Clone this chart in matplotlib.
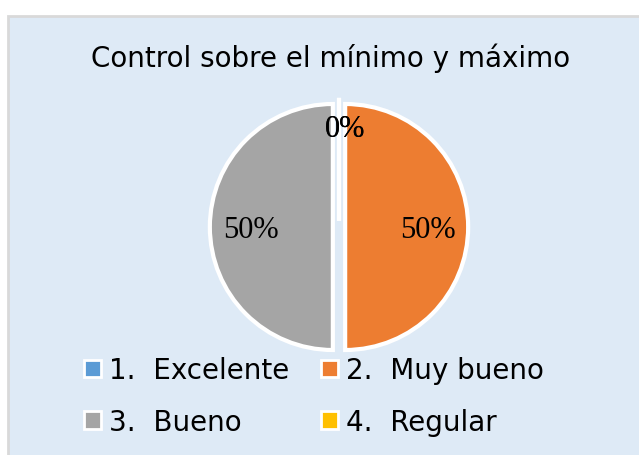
import matplotlib.pyplot as plt
from matplotlib.patches import Rectangle

# Data
categories = ["1.  Excelente", "2.  Muy bueno", "3.  Bueno", "4.  Regular"]
values = [0, 50, 50, 0]
colors = ["#5B9BD5", "#ED7D31", "#A5A5A5", "#FFC000"]
title = "Control sobre el mínimo y máximo"

fig = plt.figure(figsize=(6.39, 4.56), dpi=100)
fig.patch.set_facecolor("white")

# light blue chart panel with gray border (runs off right/bottom edge)
W, H = 639, 456
panel = Rectangle((8 / W, -0.05), 1.0, 1.05 - 17 / H, transform=fig.transFigure,
                  facecolor="#DEEAF6", edgecolor="#D9D9D9", linewidth=2, zorder=-5)
fig.patches.append(panel)

fig.text(331 / W, 1 - 58 / H, title, ha="center", va="center",
         fontsize=20, family="DejaVu Sans", color="black")

# pie axes: centre ~ (339, 228), radius ~ 123 px
r = 123
ax = fig.add_axes([(339 - r * 1.1) / W, 1 - (228 + r * 1.1) / H,
                   2 * r * 1.1 / W, 2 * r * 1.1 / H], zorder=2)
ax.set_facecolor("none")
wedges, texts, autotexts = ax.pie(
    values, colors=colors, startangle=90, counterclock=False,
    explode=[0.05] * 4, autopct="%1.0f%%", pctdistance=0.67, radius=1.0,
    wedgeprops=dict(edgecolor="white", linewidth=3),
    textprops=dict(family="Liberation Serif", fontsize=22, color="black"))
ax.set_xlim(-1.1, 1.1)
ax.set_ylim(-1.1, 1.1)
ax.set_aspect("equal")

# zero-valued labels sit near the top; 50% labels a touch lower
for i, t in enumerate(autotexts):
    x, y = t.get_position()
    if values[i] == 0:
        t.set_position((0.05, 0.80))
    else:
        t.set_position((x, y - 0.02))

# row-major legend order with ncol=2
order = [0, 2, 1, 3]
leg = fig.legend([wedges[i] for i in order], [categories[i] for i in order],
                 loc="upper left", ncol=2,
                 bbox_to_anchor=(73 / W, 1 - 346 / H), frameon=False,
                 prop=dict(family="DejaVu Sans", size=20),
                 handlelength=0.6, handleheight=0.6, handletextpad=0.3,
                 columnspacing=1.15, labelspacing=0.85, borderaxespad=0)
leg.set_zorder(3)
for h in leg.legend_handles:
    h.set_edgecolor("white")
    h.set_linewidth(2)

plt.savefig("out.png", dpi=100)
